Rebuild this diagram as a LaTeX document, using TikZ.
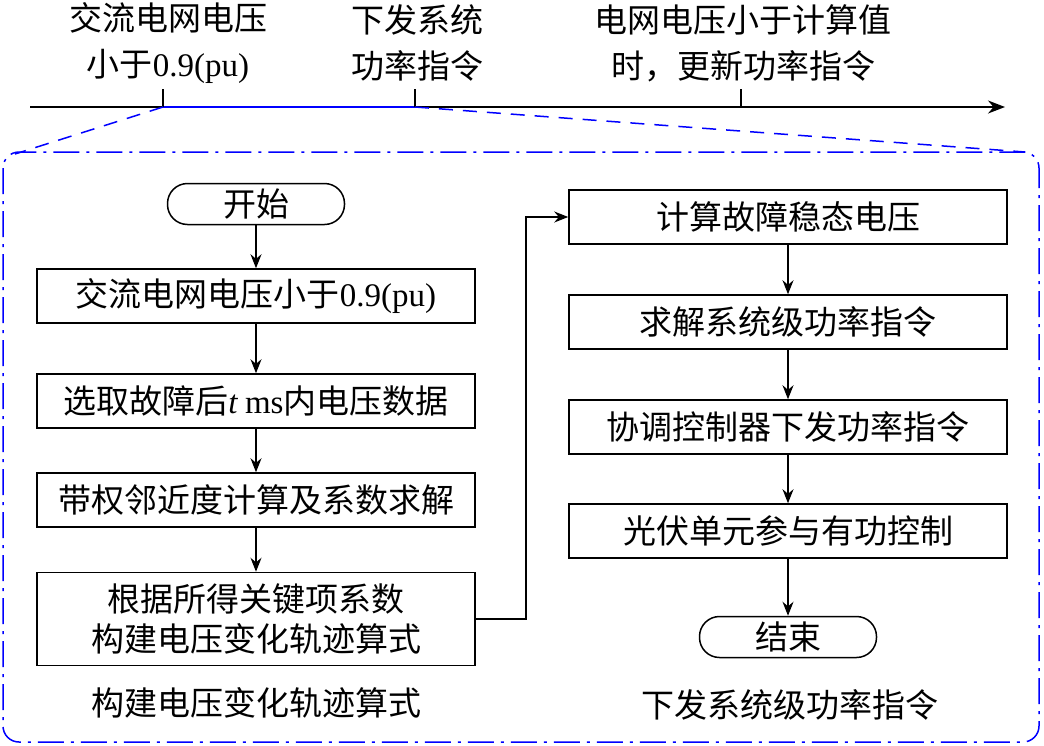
\documentclass[tikz,border=0pt]{standalone}
\usepackage{fontspec}
\setmainfont{Liberation Serif}
\newfontfamily\cjk{Noto Sans CJK SC}
\usetikzlibrary{arrows.meta}
\newcommand\latn[1]{{\rmfamily #1}}

\begin{document}
\begin{tikzpicture}[x=1pt,y=-1pt,>={Stealth[length=14pt,width=11pt]},line width=1.5pt,
  every node/.style={font=\fontsize{33}{40}\selectfont\cjk},
  box/.style={draw,minimum width=438pt,minimum height=54pt,inner sep=0pt},
  term/.style={draw,rounded corners=20pt,minimum width=177pt,minimum height=41pt,inner sep=0pt},
  frame/.style={blue,dash pattern=on 26pt off 7pt on 3pt off 7pt,rounded corners=16pt},
  zoomline/.style={blue,dash pattern=on 14pt off 10pt},
  toplabel/.style={align=center,font=\fontsize{33}{46}\selectfont\cjk}]
\useasboundingbox (0,0) rectangle (1044,745);
\coordinate (t0) at (30,107);\coordinate (tend) at (1005,107);
\coordinate (t1) at (163,107);\coordinate (t2) at (415,107);\coordinate (t3) at (741,107);
\coordinate (zl) at (15,154);\coordinate (zr) at (1025,152);
\draw[->,>={Stealth[length=17pt,width=13pt]}] (t0)--(tend);
\draw[blue] (t1)--(t2);
\foreach \t in {t1,t2,t3} \draw (\t)--++(0,-18);
\node[toplabel] (l1) at (168,43) {交流电网电压\\小于\latn{0.9(pu)}};
\node[toplabel] (l2) at (417,43) {下发系统\\功率指令};
\node[toplabel] (l3) at (743,43) {电网电压小于计算值\\时，更新功率指令};
\draw[zoomline] (t1)--(zl);\draw[zoomline] (t2)--(zr);
\draw[frame] (3,152) rectangle (1039,742);

\node[term] (st) at (256,204){开始};
\node[box] (b1) at (256,296){交流电网电压小于\latn{0.9(pu)}};
\node[box] (b2) at (256,401){选取故障后{\rmfamily\itshape t} \latn{ms}内电压数据};
\node[box] (b3) at (256,500){带权邻近度计算及系数求解};
\node[box,minimum height=93pt,align=center] (b4) at (256,619){根据所得关键项系数\\构建电压变化轨迹算式};
\node (c1) at (256,703){构建电压变化轨迹算式};
\node[box] (r1) at (788,217){计算故障稳态电压};
\node[box] (r2) at (788,322){求解系统级功率指令};
\node[box] (r3) at (788,427){协调控制器下发功率指令};
\node[box] (r4) at (788,531){光伏单元参与有功控制};
\node[term] (ed) at (788,637){结束};
\node (c2) at (790,705){下发系统级功率指令};
\foreach \a/\b in {st/b1,b1/b2,b2/b3,b3/b4,r1/r2,r2/r3,r3/r4,r4/ed} \draw[->] (\a)--(\b);
\draw[->] (b4.east)--++(50,0)|-(r1.west);
\end{tikzpicture}
\end{document}
